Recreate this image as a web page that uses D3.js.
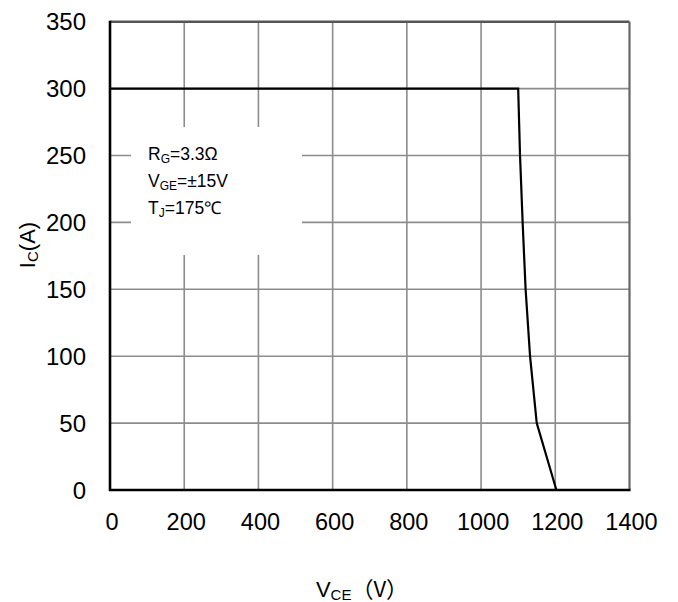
<!DOCTYPE html>
<html>
<head>
<meta charset="utf-8">
<script src="https://cdn.jsdelivr.net/npm/d3@7/dist/d3.min.js"></script>
<style>
  html, body { margin: 0; padding: 0; background: #fff; }
  svg { display: block; font-family: "Liberation Sans", Arial, sans-serif; }
</style>
</head>
<body>
<svg id="chart" width="678" height="602"></svg>
<script>
// Data (RBSOA curve)
const vce = [0, 1100, 1105, 1112, 1120, 1132, 1150, 1203];
const ic  = [300, 300, 250, 200, 150, 100, 50, 0];
const xTicks = [0, 200, 400, 600, 800, 1000, 1200, 1400];
const yTicks = [0, 50, 100, 150, 200, 250, 300, 350];
const legendLines = [
  {main: "R", sub: "G", rest: "=3.3Ω"},
  {main: "V", sub: "GE", rest: "=±15V"},
  {main: "T", sub: "J", rest: "=175℃"}
];

const svg = d3.select("#chart");
const m = {left: 110, right: 629.5, top: 21.7, bottom: 490};
const x = d3.scaleLinear().domain([0, 1400]).range([m.left, m.right]);
const y = d3.scaleLinear().domain([0, 350]).range([m.bottom, m.top]);

// grid
const g = svg.append("g");
g.selectAll("line.v").data(xTicks.slice(1, -1)).enter().append("line")
  .attr("x1", d => x(d)).attr("x2", d => x(d))
  .attr("y1", m.top).attr("y2", m.bottom)
  .attr("stroke", "#8c8c8c").attr("stroke-width", 1.6);
g.selectAll("line.h").data(yTicks.slice(1, -1)).enter().append("line")
  .attr("x1", m.left).attr("x2", m.right)
  .attr("y1", d => y(d)).attr("y2", d => y(d))
  .attr("stroke", "#8c8c8c").attr("stroke-width", 1.6);

// frame (top and right, darker gray)
svg.append("line").attr("x1", m.left).attr("x2", m.right)
  .attr("y1", y(350)).attr("y2", y(350))
  .attr("stroke", "#555").attr("stroke-width", 2.4);
svg.append("line").attr("x1", x(1400)).attr("x2", x(1400))
  .attr("y1", m.top).attr("y2", m.bottom)
  .attr("stroke", "#666").attr("stroke-width", 2.2);

// legend background
svg.append("rect").attr("x", 131).attr("y", 127).attr("width", 171).attr("height", 128)
  .attr("fill", "#fff");

// legend text
const lg = svg.append("g").attr("font-size", 17.5).attr("fill", "#000");
legendLines.forEach((l, i) => {
  const t = lg.append("text").attr("x", 148).attr("y", 160 + i * 27);
  t.append("tspan").text(l.main);
  t.append("tspan").attr("font-size", 12).attr("dy", 3).text(l.sub);
  t.append("tspan").attr("dy", -3).text(l.rest);
});

// axes (left & bottom black)
svg.append("line").attr("x1", m.left).attr("x2", m.left)
  .attr("y1", m.top - 1).attr("y2", m.bottom + 1)
  .attr("stroke", "#000").attr("stroke-width", 2.6);
svg.append("line").attr("x1", m.left - 1).attr("x2", m.right + 1)
  .attr("y1", m.bottom).attr("y2", m.bottom)
  .attr("stroke", "#000").attr("stroke-width", 2.6);

// curve
const pts = vce.map((v, i) => [v, ic[i]]);
svg.append("path").datum(pts)
  .attr("fill", "none").attr("stroke", "#000").attr("stroke-width", 2.2)
  .attr("stroke-linejoin", "miter")
  .attr("d", d3.line().x(d => x(d[0])).y(d => y(d[1])));

// tick labels
svg.append("g").selectAll("text").data(xTicks).enter().append("text")
  .attr("x", d => x(d) + 2).attr("y", 530)
  .attr("text-anchor", "middle").attr("font-size", 23.5).text(d => d);
svg.append("g").selectAll("text").data(yTicks).enter().append("text")
  .attr("x", 86).attr("y", d => y(d) + 8.5)
  .attr("text-anchor", "end").attr("font-size", 24).text(d => d);

// axis titles
const xt = svg.append("text").attr("x", 362).attr("y", 597)
  .attr("text-anchor", "middle").attr("font-size", 22);
xt.append("tspan").text("V");
xt.append("tspan").attr("font-size", 15).attr("dy", 3).text("CE");
xt.append("tspan").attr("dy", -3).attr("font-family", "'Noto Sans CJK SC', sans-serif").text("（V）");

const yt = svg.append("text").attr("transform", "translate(35,245) rotate(-90)")
  .attr("text-anchor", "middle").attr("font-size", 22);
yt.append("tspan").text("I");
yt.append("tspan").attr("font-size", 15).attr("dy", 3).text("C");
yt.append("tspan").attr("dy", -3).text("(A)");
</script>
</body>
</html>
